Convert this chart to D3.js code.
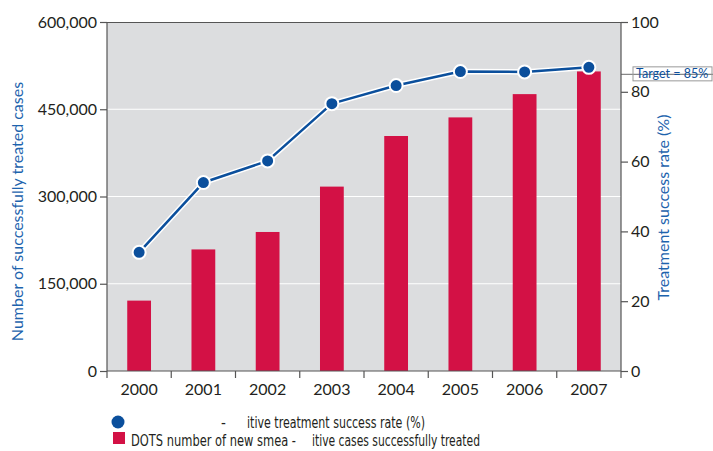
<!DOCTYPE html>
<html>
<head>
<meta charset="utf-8">
<script src="https://cdn.jsdelivr.net/npm/d3@7"></script>
<style>
  html, body { margin: 0; padding: 0; background: #fff; }
  svg { display: block; }
  .tick text { font-family: Lato, "Open Sans", sans-serif; font-size: 16px; fill: #231f20; }
</style>
</head>
<body>
<svg id="chart" width="713" height="451"></svg>
<script>
// Years on the x axis
const years = ["2000", "2001", "2002", "2003", "2004", "2005", "2006", "2007"];
// DOTS number of new smear-positive cases successfully treated
const casesTreated = [121000, 209000, 239000, 317000, 404000, 436000, 476000, 515000];
// Treatment success rate (%)
const successRate = [34, 54, 60.2, 76.6, 81.8, 85.8, 85.7, 87];
// Tick values for the two y axes
const leftTicks = [0, 150000, 300000, 450000, 600000];
const rightTicks = [0, 20, 40, 60, 80, 100];
const targetRate = 85;

const svg = d3.select("#chart");
const margin = { left: 107, right: 92, top: 22, bottom: 80 };
const W = 713, H = 451;
const x0 = margin.left, x1 = W - margin.right;
const y0 = H - margin.bottom, y1 = margin.top;

const blue = "#0b4f9c";
const red = "#d31145";
const axisGrey = "#555";

const x = d3.scaleBand().domain(years).range([x0, x1]).paddingInner(0.63).paddingOuter(0.315);
const xBand = d3.scaleBand().domain(years).range([x0, x1]);
const yL = d3.scaleLinear().domain([0, 600000]).range([y0, y1]);
const yR = d3.scaleLinear().domain([0, 100]).range([y0, y1]);

// Plot background
svg.append("rect").attr("x", x0).attr("y", y1).attr("width", x1 - x0).attr("height", y0 - y1)
  .attr("fill", "#dcdddf");

// White horizontal gridlines
svg.append("g").selectAll("line").data(leftTicks.slice(1, -1)).join("line")
  .attr("x1", x0).attr("x2", x1)
  .attr("y1", d => yL(d)).attr("y2", d => yL(d))
  .attr("stroke", "#fff").attr("stroke-width", 1.2);

// Bars
svg.append("g").selectAll("rect").data(years).join("rect")
  .attr("x", d => x(d)).attr("width", x.bandwidth())
  .attr("y", (d, i) => yL(casesTreated[i]))
  .attr("height", (d, i) => y0 - yL(casesTreated[i]))
  .attr("fill", red);

// Frame top line
svg.append("line").attr("x1", x0).attr("x2", x1).attr("y1", y1 + 0.5).attr("y2", y1 + 0.5)
  .attr("stroke", axisGrey).attr("stroke-width", 1.2);

// Target line and label
const ty = yR(targetRate);
svg.append("line").attr("x1", x1).attr("x2", W).attr("y1", ty).attr("y2", ty)
  .attr("stroke", "#888").attr("stroke-width", 1.2);
svg.append("rect").attr("x", 633).attr("y", ty - 7.5).attr("width", 79).attr("height", 14)
  .attr("fill", "none").attr("stroke", "#999").attr("stroke-width", 1);
svg.append("text").attr("x", 636).attr("y", ty + 4)
  .attr("font-family", "Lato, 'Open Sans', sans-serif").attr("font-size", 12.5)
  .attr("fill", blue).text("Target = 85%");

// Success-rate line with white halo
const xc = d => xBand(d) + xBand.bandwidth() / 2;
const line = d3.line().x((d, i) => xc(years[i])).y(d => yR(d));
svg.append("path").datum(successRate).attr("d", line)
  .attr("fill", "none").attr("stroke", "#fff").attr("stroke-width", 5.5).attr("stroke-linejoin", "round");
svg.append("path").datum(successRate).attr("d", line)
  .attr("fill", "none").attr("stroke", blue).attr("stroke-width", 2.5).attr("stroke-linejoin", "round");
svg.append("g").selectAll("circle").data(successRate).join("circle")
  .attr("cx", (d, i) => xc(years[i])).attr("cy", d => yR(d)).attr("r", 6.5)
  .attr("fill", blue).attr("stroke", "#fff").attr("stroke-width", 2);

// Axes
const fmt = d3.format(",");
const gL = svg.append("g").attr("transform", `translate(${x0},0)`)
  .call(d3.axisLeft(yL).tickValues(leftTicks).tickFormat(fmt).tickSize(7).tickPadding(3));
const gR = svg.append("g").attr("transform", `translate(${x1},0)`)
  .call(d3.axisRight(yR).tickValues(rightTicks).tickSize(7).tickPadding(3));
const gX = svg.append("g").attr("transform", `translate(0,${y0})`)
  .call(d3.axisBottom(xBand).tickSize(0).tickPadding(13));
// Tick marks between year bands
gX.selectAll(".sep").data(d3.range(years.length + 1)).join("line")
  .attr("class", "sep")
  .attr("x1", i => x0 + i * xBand.step()).attr("x2", i => x0 + i * xBand.step())
  .attr("y1", 0).attr("y2", 7).attr("stroke", axisGrey).attr("stroke-width", 1.2);
[gL, gR, gX].forEach(g => {
  g.select(".domain").attr("stroke", axisGrey).attr("stroke-width", 1.2);
  g.selectAll(".tick line").attr("stroke", axisGrey).attr("stroke-width", 1.2);
});
gL.select(".domain").attr("d", `M0,${y1}V${y0}`);
gR.select(".domain").attr("d", `M0,${y1}V${y0}`);
gX.select(".domain").attr("d", `M${x0},0H${x1}`);
gX.selectAll(".tick text").attr("font-size", 16.5);

// Axis titles
svg.append("text")
  .attr("transform", `translate(23,${(y0 + y1) / 2 + 15}) rotate(-90)`)
  .attr("text-anchor", "middle")
  .attr("font-family", "Lato, 'Open Sans', sans-serif").attr("font-size", 16)
  .attr("fill", "#1d63ad").text("Number of successfully treated cases");
svg.append("text")
  .attr("transform", `translate(669,${(y0 + y1) / 2 + 11}) rotate(-90)`)
  .attr("text-anchor", "middle")
  .attr("font-family", "Lato, 'Open Sans', sans-serif").attr("font-size", 16)
  .attr("fill", "#1d63ad").text("Treatment success rate (%)");

// Legend
const legFont = "'Liberation Sans Narrow', 'DejaVu Sans Condensed', sans-serif";
const leg = svg.append("g").attr("font-family", legFont).attr("font-size", 15).attr("fill", "#231f20");
leg.append("circle").attr("cx", 118).attr("cy", 422).attr("r", 6.5).attr("fill", blue);
leg.append("text").attr("x", 221).attr("y", 428).text("-");
leg.append("text").attr("x", 247).attr("y", 428)
  .attr("textLength", 178).attr("lengthAdjust", "spacingAndGlyphs")
  .text("itive treatment success rate (%)");
leg.append("rect").attr("x", 113).attr("y", 432).attr("width", 12).attr("height", 12).attr("fill", red);
leg.append("text").attr("x", 131).attr("y", 446)
  .attr("textLength", 165).attr("lengthAdjust", "spacingAndGlyphs")
  .text("DOTS number of new smea -");
leg.append("text").attr("x", 312).attr("y", 446)
  .attr("textLength", 168).attr("lengthAdjust", "spacingAndGlyphs")
  .text("itive cases successfully treated");
</script>
</body>
</html>
